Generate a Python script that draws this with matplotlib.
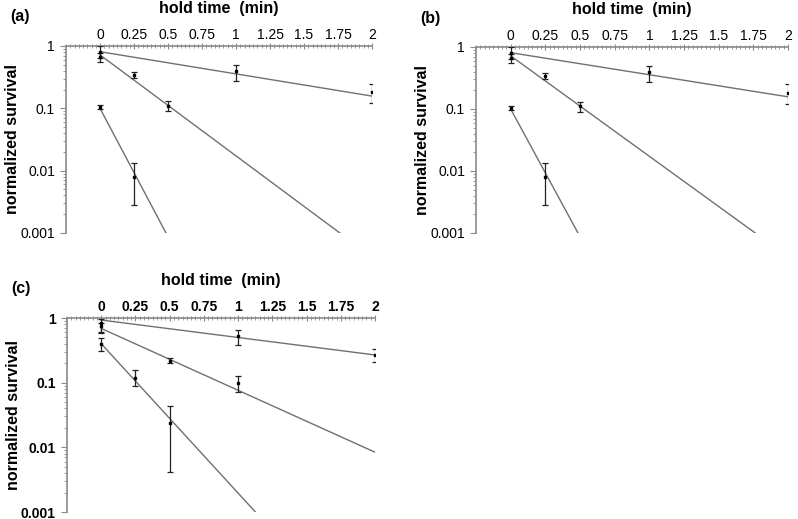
import numpy as np
import matplotlib
matplotlib.use("Agg")
import matplotlib.pyplot as plt
from matplotlib.ticker import FixedLocator, MultipleLocator, NullFormatter

plt.rcParams['font.family'] = ['Liberation Sans', 'DejaVu Sans']

# panels (a) and (b): three series, mean and error bar low / high
ab_t = [[0, 1, 2], [0, 0.25, 0.5], [0, 0.25]]
ab_y = [[0.81, 0.39, 0.18], [0.67, 0.34, 0.11], [0.104, 0.008]]
ab_lo = [[0.64, 0.27, 0.12], [0.56, 0.31, 0.09], [0.096, 0.0028]]
ab_hi = [[1.0, 0.5, 0.25], [0.78, 0.38, 0.13], [0.113, 0.0135]]
# exponential fits: value at t=0, log10 slope per min
ab_fit_a = [0.81, 0.72, 0.10]
ab_fit_k = [-0.356, -1.62, -4.12]

# panel (c)
c_t = [[0, 1, 2], [0, 0.5, 1], [0, 0.25, 0.5]]
c_y = [[0.84, 0.53, 0.27], [0.76, 0.22, 0.098], [0.39, 0.12, 0.024]]
c_lo = [[0.6, 0.38, 0.21], [0.58, 0.2, 0.072], [0.31, 0.089, 0.0042]]
c_hi = [[0.97, 0.65, 0.33], [0.85, 0.24, 0.125], [0.49, 0.158, 0.043]]
c_fit_a = [0.93, 0.69, 0.40]
c_fit_k = [-0.27, -0.957, -2.31]

x_ticks = [0, 0.25, 0.5, 0.75, 1, 1.25, 1.5, 1.75, 2]
x_labels = ["0", "0.25", "0.5", "0.75", "1", "1.25", "1.5", "1.75", "2"]
y_ticks = [1, 0.1, 0.01, 0.001]
y_labels = ["1", "0.1", "0.01", "0.001"]

W, H = 798, 519
fig = plt.figure(figsize=(W / 100, H / 100), dpi=100)


def panel(rect, tag, t, y, lo, hi, fit_a, fit_k, bold_ticks=False):
    left, top, right, bottom = rect
    ax = fig.add_axes([left / W, 1 - bottom / H, (right - left) / W, (bottom - top) / H])
    ax.set_yscale('log')
    ax.set_xlim(-0.25, 2)
    ax.set_ylim(0.001, 1)

    tt = np.linspace(0, 2, 200)
    for i in range(len(t)):
        ax.plot(tt, fit_a[i] * 10 ** (fit_k[i] * tt), color='#707070', lw=1, zorder=2)
        yi = np.array(y[i])
        yerr = [yi - np.array(lo[i]), np.array(hi[i]) - yi]
        ax.errorbar(t[i], yi, yerr=yerr, fmt='s', ms=1.8, color='black',
                    ecolor='#222222', elinewidth=0.9, capsize=2.5, capthick=0.9, zorder=3)

    for s in ['right', 'bottom']:
        ax.spines[s].set_visible(False)
    for s in ['left', 'top']:
        ax.spines[s].set_color('#8a8a8a')
        ax.spines[s].set_linewidth(1.2)

    weight = 'bold' if bold_ticks else 'normal'
    ax.xaxis.tick_top()
    ax.xaxis.set_label_position('top')
    ax.set_xticks(x_ticks)
    ax.set_xticklabels(x_labels, fontsize=10, fontweight=weight)
    ax.xaxis.set_minor_locator(MultipleLocator(0.25 / 8))
    ax.tick_params(axis='x', which='major', direction='inout', length=4, color='#8a8a8a', pad=1)
    ax.tick_params(axis='x', which='minor', direction='inout', length=2.5, color='#8a8a8a')

    ax.yaxis.set_major_locator(FixedLocator(y_ticks))
    ax.set_yticklabels(y_labels, fontsize=10, fontweight=weight)
    minors = [m * 10.0 ** e for e in range(-3, 0) for m in range(2, 10)]
    ax.yaxis.set_minor_locator(FixedLocator(minors))
    ax.yaxis.set_minor_formatter(NullFormatter())
    ax.tick_params(axis='y', which='major', direction='out', length=4, color='#8a8a8a', pad=4)
    ax.tick_params(axis='y', which='minor', direction='out', length=2.5, color='#8a8a8a')

    ax.set_xlabel("hold time  (min)", fontsize=11.5, fontweight='bold', labelpad=10.5)
    ax.set_ylabel("normalized survival", fontsize=11.5, fontweight='bold', labelpad=0)
    ax.patch.set_visible(False)
    fig.text((left - 46) / W, 1 - (top - 29) / H, tag, fontsize=11.5, fontweight='bold',
             ha='center', va='center')
    return ax


panel((66, 46, 372, 233), "(a)", ab_t, ab_y, ab_lo, ab_hi, ab_fit_a, ab_fit_k)
panel((476, 47, 788, 233), "(b)", ab_t, ab_y, ab_lo, ab_hi, ab_fit_a, ab_fit_k)
panel((67, 318, 375, 512), "(c)", c_t, c_y, c_lo, c_hi, c_fit_a, c_fit_k, bold_ticks=True)

fig.savefig("out.png", dpi=100)
